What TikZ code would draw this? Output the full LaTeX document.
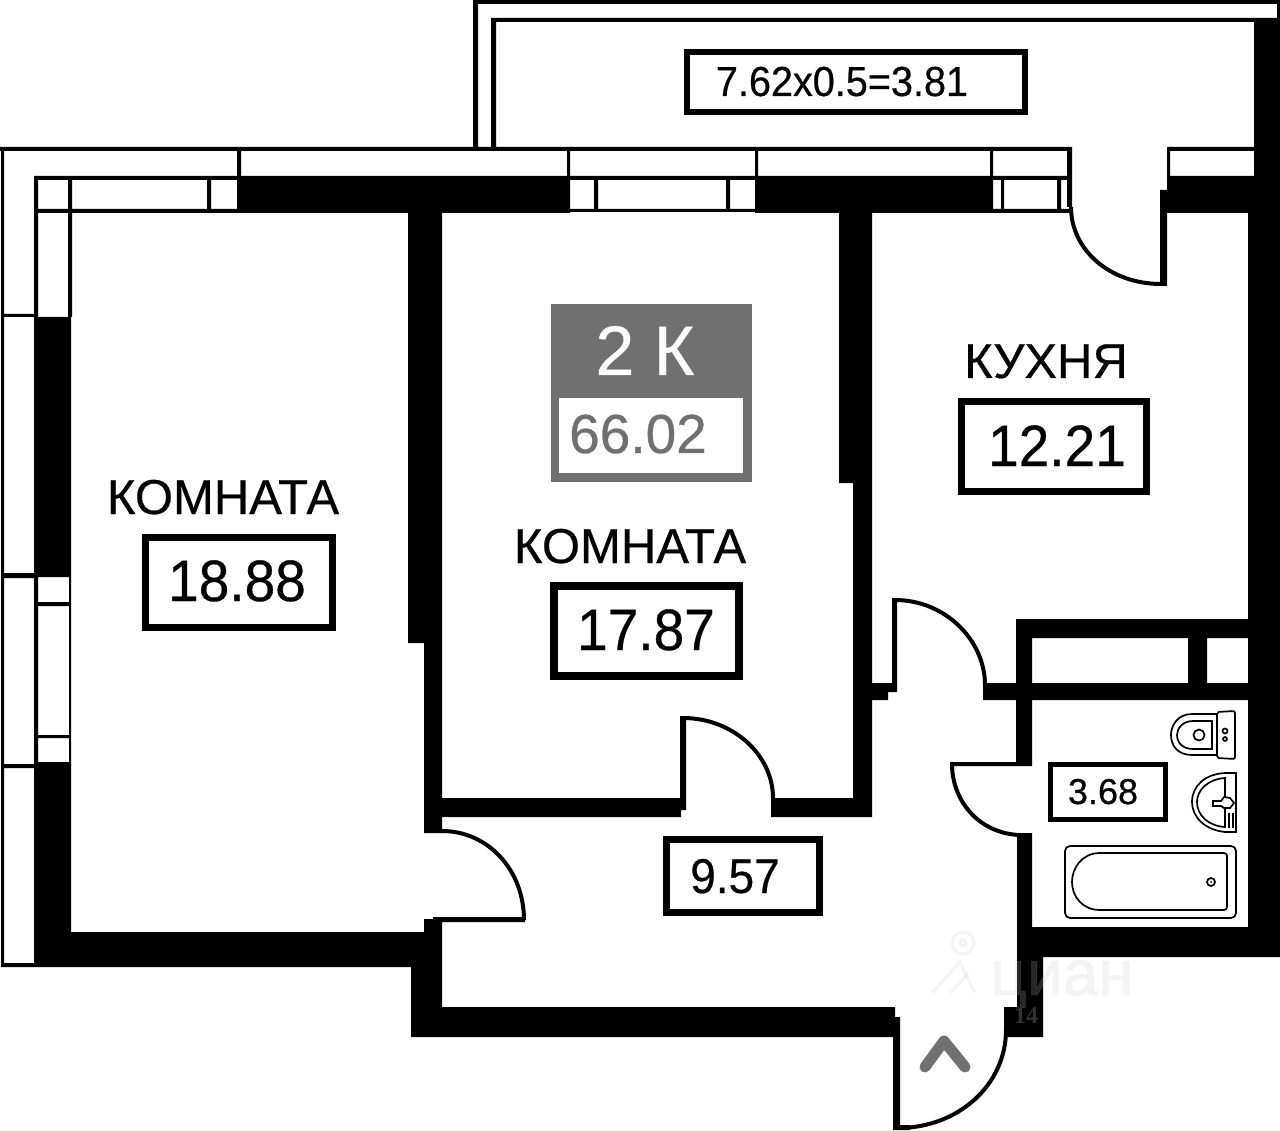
\documentclass[tikz,border=0pt]{standalone}
\usepackage{graphicx}
\usepackage{fontspec}
\setmainfont{Liberation Sans}[FakeBold=0.5]
\newfontfamily\wmserif{Liberation Serif}
\definecolor{badge}{HTML}{707070}
\tikzset{
  wall/.style={fill=black,draw=none},
  swing/.style={draw=black,line width=4pt},
  fixture/.style={draw=black,line width=1.7pt,fill=none},
  area/.style={draw=black,fill=white,inner sep=0pt,anchor=north west},
  lab/.style={inner sep=0pt,anchor=base,text=black},
  faint/.style={draw=black!20,line width=3pt,opacity=.2},
}
\newcommand{\bx}[4]{(#1,#2) rectangle (#3,#4)}
\newcommand{\tallnum}[1]{\scalebox{1}[1.06]{#1}}
\begin{document}
\begin{tikzpicture}[x=1pt,y=-1pt]
\useasboundingbox (0,0) rectangle (1280,1131);
\fill[white] (0,0) rectangle (1280,1131);
% structural walls
\fill[wall]
  \bx{237}{176}{570}{213}
  \bx{755}{176}{993}{213}
  \bx{408}{176}{442}{643}
  \bx{424}{643}{442}{833}
  \bx{839}{213}{872}{483}
  \bx{853}{483}{872}{817}
  \bx{442}{798}{681}{817}
  \bx{681}{798}{686}{810}
  \bx{771}{798}{872}{817}
  \bx{872}{683}{888}{700}
  \bx{888}{683}{897}{692}
  \bx{983}{683}{1248}{700}
  \bx{1016}{619}{1248}{638}
  \bx{1016}{619}{1032}{700}
  \bx{1188}{638}{1207}{683}
  \bx{1016}{700}{1032}{762}
  \bx{1017}{833}{1032}{957}
  \bx{1017}{927}{1280}{957}
  \bx{1017}{957}{1043}{1037}
  \bx{1004}{1007}{1043}{1037}
  \bx{1248}{213}{1280}{957}
  \bx{1254}{18}{1280}{213}
  \bx{1277}{0}{1280}{18}
  \bx{1167}{176}{1254}{213}
  \bx{1160}{190}{1167}{286}
  \bx{34}{317}{71}{577}
  \bx{34}{764}{71}{967}
  \bx{34}{932}{424}{967}
  \bx{424}{919}{442}{1007}
  \bx{433}{917}{525}{922}
  \bx{411}{967}{442}{1037}
  \bx{411}{1007}{895}{1037}
  \bx{895}{1017}{900}{1037}
  \bx{893}{1037}{900}{1130}
  \bx{893}{1125}{910}{1130}
  \bx{950}{762}{1032}{766}
  \bx{680}{716}{686}{800}
  \bx{892}{598}{897}{692}
  \bx{424}{830}{442}{833};
% thin frames: balcony and window lines
\fill[wall]
  \bx{473}{0}{1280}{4}
  \bx{473}{0}{478}{147}
  \bx{491}{18}{1254}{22}
  \bx{491}{18}{496}{147}
  \bx{0}{147}{1072}{151}
  \bx{1167}{147}{1254}{151}
  \bx{1067}{147}{1072}{207}
  \bx{1167}{147}{1170}{190}
  \bx{237}{147}{241}{176}
  \bx{567}{147}{570}{176}
  \bx{755}{147}{758}{176}
  \bx{990}{147}{993}{176}
  \bx{1}{147}{4}{967}
  \bx{1}{963}{34}{967}
  \bx{4}{314}{34}{317}
  \bx{4}{573}{34}{578}
  \bx{4}{764}{34}{768}
  % top-left window
  \bx{34}{176}{237}{180}
  \bx{34}{209}{237}{213}
  \bx{34}{176}{38}{317}
  \bx{68}{176}{72}{317}
  \bx{207}{176}{211}{213}
  % middle window
  \bx{570}{176}{755}{180}
  \bx{570}{209}{755}{212}
  \bx{594}{176}{598}{212}
  \bx{726}{176}{730}{212}
  % right window
  \bx{993}{176}{1072}{180}
  \bx{993}{209}{1072}{213}
  \bx{1001}{176}{1004}{213}
  \bx{1057}{176}{1061}{213}
  % left lower window
  \bx{34}{577}{38}{764}
  \bx{69}{577}{71}{764}
  \bx{34}{602}{71}{606}
  \bx{34}{735}{71}{738}
  \bx{34}{762}{71}{765};
% door swings
\draw[swing] (1071,207) .. controls (1071,250) and (1110,284) .. (1161,284);
\draw[swing] (895,600) .. controls (945,600) and (985,640) .. (985,685);
\draw[swing] (683,718) .. controls (733,718) and (773,755) .. (773,798);
\draw[swing] (952,764) .. controls (952,800) and (978,833) .. (1019,835);
\draw[swing] (442,831) .. controls (488,831) and (524,870) .. (524,920);
\draw[swing] (1006,1030) .. controls (1006,1085) and (958,1128) .. (898,1128);
% entrance arrow
\draw[badge,line width=11pt,line cap=round,line join=round] (925,1067) -- (944,1041) -- (965,1067);
% toilet
\draw[fixture] (1217,714) -- (1192,714) .. controls (1178,714) and (1171,725) .. (1171,735) .. controls (1171,746) and (1178,755) .. (1192,755) -- (1217,755);
\draw[fixture] (1212,721) -- (1193,721) .. controls (1183,721) and (1177,728) .. (1177,735) .. controls (1177,743) and (1183,749) .. (1193,749) -- (1212,749) -- cycle;
\draw[fixture,rounded corners=2pt] (1217,712) -- (1235,711) -- (1235,759) -- (1217,758) -- cycle;
\draw[fixture] (1199,735) circle (5.5pt);
\draw[fixture] (1225,731) circle (2.5pt);
\draw[fixture] (1225,739) circle (2pt);
% sink
\draw[fixture] (1236,773) -- (1236,832) -- (1225,832) .. controls (1205,830) and (1192,817) .. (1192,802) .. controls (1192,786) and (1205,774) .. (1225,773) -- cycle;
\draw[fixture] (1225,778) .. controls (1208,779) and (1197,790) .. (1197,802) .. controls (1197,815) and (1208,826) .. (1225,827) -- cycle;
\draw[fixture,fill=white] (1213,801) -- (1221,801) -- (1224,797) -- (1230,798) -- (1234,803) -- (1230,808) -- (1224,808) -- (1221,806) -- (1213,806) -- cycle;
\draw[fixture] (1229,813) -- (1229,828);
\draw[fixture] (1233,813) -- (1233,828);
% bathtub
\draw[fixture,rounded corners=5pt] (1065,846) rectangle (1236,918);
\draw[fixture,rounded corners=3pt] (1100,853) -- (1227,853) -- (1227,910) -- (1100,910);
\draw[fixture] (1100,853) .. controls (1082,853) and (1072,868) .. (1072,882) .. controls (1072,896) and (1082,910) .. (1100,910);
\draw[fixture] (1211,882) circle (4pt);
\fill[black] (1211,882) circle (1pt);
% area labels
\node[area,line width=7pt,minimum width=187pt,minimum height=90pt] (a1box) at (142,534) {};
\node[area,line width=8pt,minimum width=185pt,minimum height=90pt] (a2box) at (550,582) {};
\node[area,line width=7pt,minimum width=185pt,minimum height=90pt] (a3box) at (958,398) {};
\node[area,line width=7pt,minimum width=153pt,minimum height=73pt] (a4box) at (663,836) {};
\node[area,line width=5pt,minimum width=115pt,minimum height=55pt] (a5box) at (1048,762) {};
\node[area,line width=6pt,minimum width=338pt,minimum height=60pt] (a6box) at (684,49) {};
\node[lab,font=\fontsize{49}{49}\selectfont] (r1) at (223,514) {КОМНАТА};
\node[lab,font=\fontsize{49}{49}\selectfont] (r2) at (630,563) {КОМНАТА};
\node[lab,font=\fontsize{49}{49}\selectfont] (r3) at (1046,378) {КУХНЯ};
\node[lab,font=\fontsize{55}{55}\selectfont] (v1) at (237,601) {\tallnum{18.88}};
\node[lab,font=\fontsize{55}{55}\selectfont] (v2) at (646,650) {\tallnum{17.87}};
\node[lab,font=\fontsize{55}{55}\selectfont] (v3) at (1057,466) {\tallnum{12.21}};
\node[lab,font=\fontsize{46}{46}\selectfont] (v4) at (735,893) {\tallnum{9.57}};
\node[lab,font=\fontsize{36}{36}\selectfont] (v5) at (1103,804) {3.68};
\node[lab,font=\fontsize{39.6}{40}\selectfont] (v6) at (842,96) {\tallnum{7.62x0.5=3.81}};
% badge
\fill[badge] (551,304) rectangle (752,482);
\fill[white] (559,398) rectangle (743,473);
\node[lab,text=white,font=\fontsize{70}{70}\selectfont] (kind) at (645,375) {2 К};
\node[lab,text=badge,font=\fontsize{55}{55}\selectfont] (total) at (638,453) {66.02};
% watermark
\node[lab,text=black!20,opacity=.2,font=\fontsize{64}{64}\selectfont] (wm) at (1062,995) {циан};
\draw[faint] (963,943) circle (11pt);
\draw[faint] (963,943) circle (3pt);
\draw[faint] (932,993) -- (960,962) -- (975,993);
\draw[faint] (950,993) -- (968,974);
\node[lab,text=black!80!white,font=\wmserif\bfseries\fontsize{24}{24}\selectfont] (wn) at (1026,1023) {14};
\end{tikzpicture}
\end{document}
